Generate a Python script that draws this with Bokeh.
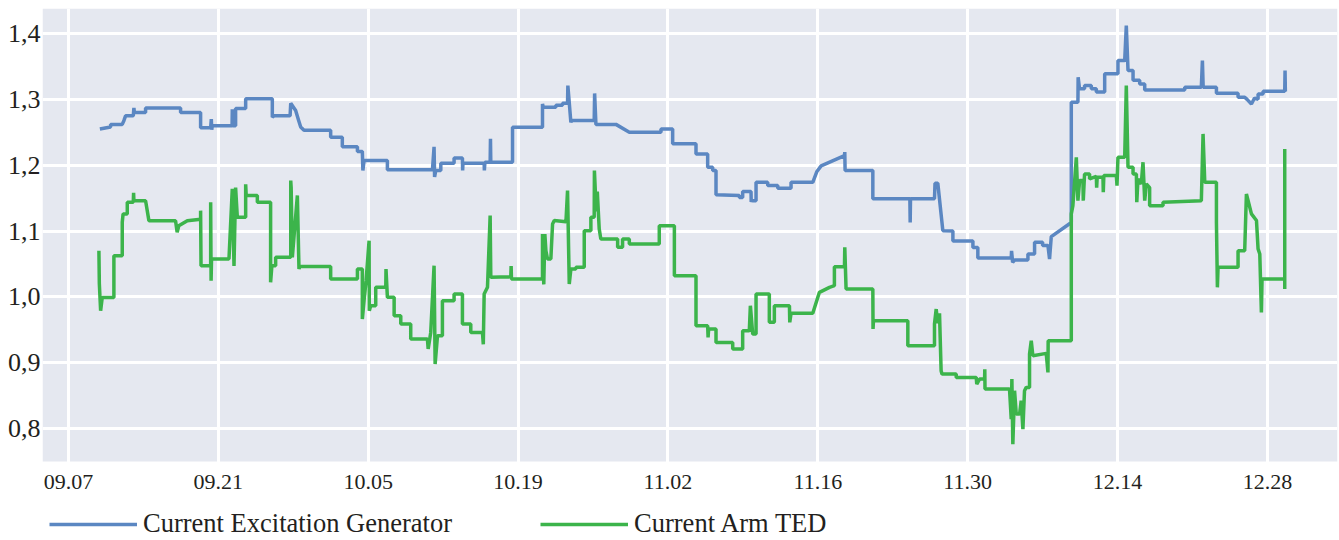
from bokeh.plotting import figure
from bokeh.models import (Range1d, FixedTicker, CustomJSTickFormatter, Legend,
                          LegendItem, ColumnDataSource, LinearAxis, BoxAnnotation)
from bokeh.embed import file_html
from bokeh.resources import INLINE

# x = days since 09.07
x_tick_days = [0, 14, 28, 42, 56, 70, 84, 98, 112]
x_tick_labels = ["09.07", "09.21", "10.05", "10.19", "11.02", "11.16", "11.30", "12.14", "12.28"]
y_ticks = [0.8, 0.9, 1.0, 1.1, 1.2, 1.3, 1.4]
y_tick_labels = ["0,8", "0,9", "1,0", "1,1", "1,2", "1,3", "1,4"]

series_names = ["Current Excitation Generator", "Current Arm TED"]

excitation_days = [
    2.93, 3.93, 3.93, 5.02, 5.18, 5.33, 6.05, 6.11, 6.15, 7.20, 7.20, 10.47, 10.47, 12.34, 12.34,
    13.28, 13.34, 13.38, 13.43, 15.28, 15.30, 15.33, 15.61, 15.61, 16.55, 16.55, 19.04, 19.04,
    19.2, 20.70, 20.76, 21.22, 21.5, 21.69, 22.0, 24.49, 24.49, 25.58, 25.58, 26.99, 26.99,
    27.45, 27.5, 27.61, 29.79, 29.79, 34.0, 34.15, 34.2, 34.31, 34.78, 34.78, 36.02, 36.02,
    36.80, 36.82, 36.85, 38.83, 38.85, 38.9, 39.39, 39.42, 39.45, 41.48, 41.48, 44.28, 44.28,
    44.35, 45.53, 45.53, 46.15, 46.15, 46.62, 46.65, 46.93, 47.0, 49.11, 49.15, 49.27, 51.14,
    52.39, 55.35, 55.35, 56.44, 56.44, 58.62, 58.62, 59.71, 59.71, 60.18, 60.18, 60.49, 60.49,
    62.67, 62.67, 62.98, 62.98, 63.76, 63.78, 63.82, 64.23, 64.23, 65.32, 65.32, 66.26, 66.26,
    67.50, 67.50, 69.53, 69.9, 70.31, 72.49, 72.52, 72.55, 75.14, 75.14, 78.60, 78.63, 78.66,
    80.90, 80.95, 81.21, 81.68, 82.62, 82.62, 84.49, 84.49, 84.95, 84.95, 88.07, 88.1, 88.2,
    88.38, 89.63, 89.63, 90.25, 90.25, 91.0, 91.0, 91.5, 91.65, 91.81, 93.68, 93.68, 94.30,
    94.32, 94.45, 94.92, 94.92, 95.55, 95.55, 96.02, 96.02, 96.80, 96.80, 98.04, 98.04, 98.67,
    98.82, 98.98, 99.45, 99.45, 100.07, 100.07, 100.54, 100.54, 104.28, 104.28, 105.83, 105.93,
    106.0, 107.24, 107.24, 109.26, 109.26, 109.88, 110.1, 110.51, 110.8, 111.13, 111.13, 111.60,
    111.60, 113.62, 113.65, 113.68,
]
excitation_vals = [
    1.255, 1.258, 1.262, 1.262, 1.268, 1.275, 1.275, 1.287, 1.280, 1.280, 1.287, 1.287, 1.280, 1.280, 1.257,
    1.257, 1.270, 1.254, 1.260, 1.260, 1.285, 1.260, 1.260, 1.286, 1.286, 1.301, 1.301, 1.273,
    1.275, 1.275, 1.294, 1.283, 1.268, 1.258, 1.253, 1.253, 1.2425, 1.2425, 1.228, 1.228, 1.221,
    1.221, 1.192, 1.207, 1.207, 1.193, 1.193, 1.228, 1.182, 1.192, 1.192, 1.203, 1.203, 1.211,
    1.211, 1.192, 1.203, 1.203, 1.192, 1.2045, 1.2045, 1.240, 1.2045, 1.2045, 1.2576, 1.2576, 1.293,
    1.288, 1.288, 1.291, 1.291, 1.294, 1.294, 1.321, 1.265, 1.268, 1.268, 1.309, 1.262, 1.262,
    1.250, 1.250, 1.255, 1.255, 1.2324, 1.2324, 1.217, 1.217, 1.197, 1.197, 1.192, 1.192, 1.155,
    1.154, 1.151, 1.151, 1.160, 1.160, 1.144, 1.146, 1.146, 1.174, 1.174, 1.169, 1.169, 1.165,
    1.165, 1.174, 1.174, 1.19, 1.199, 1.2146, 1.220, 1.192, 1.192, 1.149, 1.149, 1.113, 1.149,
    1.149, 1.1725, 1.1725, 1.1006, 1.100, 1.085, 1.085, 1.075, 1.075, 1.059, 1.059, 1.070, 1.0525,
    1.056, 1.056, 1.065, 1.065, 1.083, 1.083, 1.078, 1.078, 1.0575, 1.0915, 1.113, 1.2956, 1.2956,
    1.3336, 1.316, 1.316, 1.321, 1.321, 1.316, 1.316, 1.311, 1.311, 1.339, 1.339, 1.359, 1.359,
    1.412, 1.344, 1.344, 1.329, 1.329, 1.3235, 1.3235, 1.3144, 1.3144, 1.3185, 1.3185, 1.359,
    1.3185, 1.3185, 1.3094, 1.3094, 1.3033, 1.3033, 1.300, 1.293, 1.302, 1.300, 1.308, 1.308,
    1.3124, 1.3124, 1.3438, 1.312,
]

arm_days = [
    2.84, 2.88, 3.0, 3.15, 4.24, 4.24, 5.02, 5.02, 5.1, 5.49, 5.49, 6.05, 6.08, 6.11, 7.20, 7.51,
    10.0, 10.15, 10.3, 11.1, 12.34, 12.34, 12.38, 13.28, 13.28, 13.32, 13.36, 14.99, 15.30, 15.46,
    15.61, 15.77, 16.55, 16.55, 16.6, 17.64, 17.64, 18.88, 18.88, 19.0, 19.35, 19.35, 20.76, 20.76,
    20.8, 20.91, 21.38, 21.53, 21.6, 24.49, 24.49, 26.99, 26.99, 27.45, 27.45, 27.61, 27.8, 28.08,
    28.1, 28.23, 28.70, 28.70, 29.64, 29.66, 29.79, 30.42, 30.42, 31.04, 31.04, 31.97, 31.97, 33.53,
    33.6, 33.84, 34.15, 34.25, 34.47, 34.93, 34.93, 36.02, 36.02, 36.80, 36.80, 37.58, 37.58, 38.67,
    38.75, 38.83, 39.14, 39.39, 39.45, 41.32, 41.35, 41.38, 44.28, 44.28, 44.4, 44.5, 44.6, 44.75,
    45.06, 45.22, 45.38, 46.47, 46.62, 46.78, 46.93, 47.40, 47.40, 48.18, 48.18, 48.80, 48.80, 49.11,
    49.13, 49.3, 49.4, 49.58, 49.73, 51.30, 51.30, 51.76, 51.76, 52.39, 52.39, 55.19, 55.19, 56.60,
    56.60, 58.62, 58.62, 59.71, 59.75, 59.8, 60.49, 60.49, 62.05, 62.05, 62.98, 62.98, 63.6, 63.7,
    63.92, 64.23, 64.23, 65.47, 65.47, 65.94, 65.94, 67.35, 67.38, 67.50, 69.53, 70.15, 71.09, 71.55,
    71.55, 72.49, 72.52, 72.64, 75.14, 75.16, 75.2, 78.41, 78.41, 80.90, 80.90, 81.06, 81.2, 81.37,
    81.52, 81.6, 82.93, 82.93, 84.80, 84.85, 85.11, 85.58, 85.6, 85.62, 87.91, 88.07, 88.13, 88.22,
    88.38, 88.54, 88.85, 89.0, 89.16, 89.31, 89.47, 89.78, 89.78, 89.94, 90.09, 91.34, 91.5, 91.52,
    93.68, 93.68, 93.83, 94.15, 94.30, 94.46, 94.77, 94.8, 94.92, 95.39, 95.39, 96.02, 96.05, 96.1,
    96.64, 96.67, 96.72, 97.89, 97.95, 98.04, 98.67, 98.82, 98.98, 99.45, 99.45, 99.76, 99.8, 99.91,
    100.22, 100.38, 100.54, 100.69, 101.0, 101.0, 102.25, 102.25, 105.83, 105.99, 106.15, 107.24,
    107.24, 107.33, 107.39, 109.26, 109.26, 109.88, 110.04, 110.2, 110.51, 110.98, 111.13, 111.29,
    111.44, 111.50, 113.62, 113.62, 113.62,
]
arm_vals = [
    1.070, 1.02, 0.979, 0.999, 0.999, 1.0626, 1.0626, 1.1133, 1.126, 1.126, 1.1437, 1.1437, 1.158, 1.146, 1.146, 1.1158,
    1.1158, 1.098, 1.108, 1.1158, 1.118, 1.131, 1.0474, 1.0474, 1.1437, 1.0246, 1.0575, 1.0575, 1.164, 1.047,
    1.166, 1.121, 1.121, 1.171, 1.154, 1.154, 1.1437, 1.1437, 1.0221, 1.0474, 1.0474, 1.0601, 1.0601, 1.1766,
    1.166, 1.0601, 1.154, 1.0424, 1.046, 1.046, 1.0272, 1.0272, 1.0424, 1.0424, 0.9664, 0.9943, 1.0246, 1.0854,
    0.979, 0.9866, 0.9866, 1.0145, 1.0145, 1.0424, 0.9993, 0.9993, 0.9715, 0.9715, 0.9588, 0.9588, 0.936, 0.936,
    0.921, 0.946, 1.0474, 0.898, 0.941, 0.941, 0.9943, 0.9943, 1.0044, 1.0044, 0.9588, 0.9588, 0.946, 0.946,
    0.928, 1.0044, 1.0145, 1.1234, 1.0297, 1.0307, 1.047, 1.0272, 1.0272, 1.0955, 1.019, 1.0955, 1.07, 1.0575,
    1.0575, 1.1107, 1.116, 1.114, 1.1614, 1.0196, 1.0422, 1.0422, 1.0449, 1.0449, 1.1006, 1.1006, 1.121, 1.121,
    1.192, 1.13, 1.16, 1.103, 1.088, 1.088, 1.0753, 1.0753, 1.088, 1.088, 1.0803, 1.0803, 1.1082, 1.1082,
    1.0322, 1.0322, 0.9562, 0.9562, 0.9385, 0.9512, 0.9512, 0.9309, 0.9309, 0.9208, 0.9208, 0.9486, 0.9486, 0.9866,
    0.9436, 0.9436, 1.0044, 1.0044, 0.9613, 0.9613, 0.9866, 0.9866, 0.9613, 0.975, 0.975, 1.0069, 1.0145, 1.017,
    1.0459, 1.0459, 1.0753, 1.012, 1.012, 0.9512, 0.9638, 0.9638, 0.9258, 0.9258, 0.9588, 0.9815, 0.96, 0.975,
    0.8878, 0.8828, 0.8828, 0.8777, 0.8777, 0.8676, 0.8752, 0.8752, 0.890, 0.860, 0.860, 0.8144, 0.8752, 0.7764,
    0.8575, 0.822, 0.822, 0.8423, 0.7992, 0.8575, 0.8625, 0.8625, 0.9132, 0.9334, 0.9107, 0.9142, 0.8853, 0.9334,
    0.9334, 1.126, 1.1386, 1.212, 1.1462, 1.1766, 1.1766, 1.1462, 1.1867, 1.1867, 1.1791, 1.183, 1.166, 1.1817,
    1.1817, 1.159, 1.1842, 1.1842, 1.169, 1.212, 1.212, 1.321, 1.197, 1.197, 1.1867, 1.1867, 1.1437, 1.179,
    1.1716, 1.2045, 1.1462, 1.1716, 1.166, 1.1386, 1.1386, 1.1437, 1.146, 1.2475, 1.174, 1.174,
    1.113, 1.0145, 1.045, 1.045, 1.070, 1.070, 1.1563, 1.146, 1.126, 1.116, 1.073, 1.0652,
    0.9765, 1.0272, 1.0272, 1.012, 1.2247,
]

FONT = "Liberation Serif"
TEXT_COLOR = "#231f20"
PLOT_BG = "#e5e8f0"
AREA_BOTTOM = 0.75   # lower edge of the grey plotting area

p = figure(width=1339, height=540, output_backend="svg", toolbar_location=None,
           x_range=Range1d(-2.43, 118.55), y_range=Range1d(0.63, 1.438),
           x_axis_location=None,
           min_border_left=42, min_border_right=2, min_border_top=8, min_border_bottom=0)
p.background_fill_color = "white"
p.border_fill_color = "white"
p.outline_line_color = None

# grey plotting area above the strip that hosts the date labels and the legend
p.add_layout(BoxAnnotation(bottom=AREA_BOTTOM, fill_color=PLOT_BG, fill_alpha=1,
                           line_color=None, level="image"))
p.xgrid.ticker = FixedTicker(ticks=x_tick_days)
p.ygrid.ticker = FixedTicker(ticks=y_ticks)
for g in (p.xgrid[0], p.ygrid[0]):
    g.grid_line_color = "white"
    g.grid_line_width = 3

r1 = p.line(x="d", y="v", source=ColumnDataSource(dict(d=excitation_days, v=excitation_vals)),
            line_color="#5b87c2", line_width=3.5)
r2 = p.line(x="d", y="v", source=ColumnDataSource(dict(d=arm_days, v=arm_vals)),
            line_color="#3cb44b", line_width=3.5)

fmt_code = """
const i = tick_vals.findIndex(t => Math.abs(t - tick) < 1e-6);
return i >= 0 ? tick_labels[i] : '';
"""
xaxis = LinearAxis(fixed_location=AREA_BOTTOM, ticker=FixedTicker(ticks=x_tick_days),
                   formatter=CustomJSTickFormatter(args=dict(tick_vals=x_tick_days, tick_labels=x_tick_labels),
                                                   code=fmt_code))
p.add_layout(xaxis, "below")
p.yaxis.ticker = FixedTicker(ticks=y_ticks)
p.yaxis.formatter = CustomJSTickFormatter(args=dict(tick_vals=y_ticks, tick_labels=y_tick_labels), code=fmt_code)

for ax in (xaxis, p.yaxis[0]):
    ax.axis_line_color = None
    ax.major_tick_line_color = None
    ax.minor_tick_line_color = None
    ax.major_tick_out = 0
    ax.major_tick_in = 0
    ax.minor_tick_out = 0
    ax.major_label_text_font = FONT
    ax.major_label_text_color = TEXT_COLOR
xaxis.major_label_text_font_size = "22px"
xaxis.major_label_standoff = 14
p.yaxis.major_label_text_font_size = "26px"
p.yaxis.major_label_standoff = 2

legend = Legend(items=[LegendItem(label=series_names[0], renderers=[r1]),
                       LegendItem(label=series_names[1], renderers=[r2])],
                location=(7, 1), orientation="horizontal",
                glyph_width=88, glyph_height=20, label_standoff=6, spacing=88,
                padding=0, margin=0, border_line_color=None,
                background_fill_alpha=0,
                label_text_font=FONT, label_text_font_size="26.5px",
                label_text_color=TEXT_COLOR)
p.add_layout(legend)

open("out.html", "w").write(file_html(p, INLINE))
